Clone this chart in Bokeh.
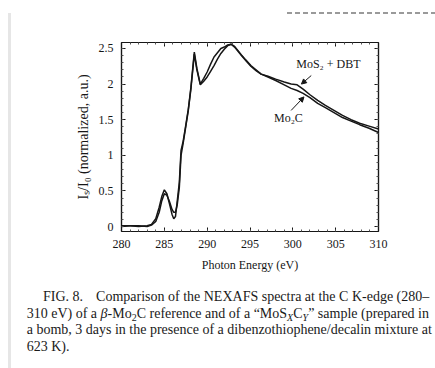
from bokeh.plotting import figure
from bokeh.models import FixedTicker, LinearAxis, Label, Arrow, NormalHead, Range1d, Div
from bokeh.layouts import column
from bokeh.embed import file_html
from bokeh.resources import INLINE

# ---- data ----
energy = [280, 281, 282, 283, 283.5, 284, 284.4, 284.7, 285, 285.3,
          285.6, 285.9, 286.1, 286.3, 286.5, 286.75, 286.95, 287.2, 287.5, 287.8,
          288.1, 288.5, 288.8, 289.2, 289.6, 290.0, 290.4, 290.8, 291.2, 291.6,
          292.0, 292.4, 292.8, 293.2, 293.6, 294.0, 294.5, 295.1, 295.7, 296.3,
          297.1, 298.0, 299.0, 299.8, 300.5, 301.2, 302.0, 302.9, 303.8, 304.8,
          305.8, 306.8, 307.8, 308.9, 310]
mos2_dbt = [0.01, 0.01, 0.0, 0.01, 0.03, 0.11, 0.27, 0.42, 0.515, 0.46,
            0.32, 0.17, 0.11, 0.14, 0.35, 0.62, 1.07, 1.2, 1.42, 1.65,
            1.95, 2.45, 2.22, 2.0, 2.08, 2.17, 2.28, 2.38, 2.44, 2.5,
            2.52, 2.55, 2.56, 2.52, 2.46, 2.40, 2.33, 2.25, 2.19, 2.14,
            2.11, 2.07, 2.03, 2.0, 1.99, 1.93, 1.85, 1.77, 1.70, 1.63,
            1.56, 1.50, 1.45, 1.41, 1.37]
mo2c = [0.0, 0.01, 0.01, 0.0, 0.02, 0.07, 0.2, 0.36, 0.46, 0.44,
        0.35, 0.24, 0.2, 0.2, 0.3, 0.55, 1.0, 1.17, 1.4, 1.63,
        1.93, 2.42, 2.2, 1.99, 2.04, 2.1, 2.18, 2.26, 2.35, 2.43,
        2.49, 2.54, 2.56, 2.53, 2.47, 2.41, 2.34, 2.26, 2.2, 2.14,
        2.1, 2.05, 1.99, 1.94, 1.91, 1.87, 1.81, 1.73, 1.67, 1.6,
        1.53, 1.48, 1.43, 1.38, 1.32]
x_ticks = [280, 285, 290, 295, 300, 305, 310]
y_ticks = [0, 0.5, 1, 1.5, 2, 2.5]
y_tick_labels = ["0", "0.5", "1", "1.5", "2", "2.5"]

SERIF = "Liberation Serif"
INK = "#161616"

p = figure(frame_width=257, frame_height=189,
           min_border_left=121, min_border_right=57,
           min_border_top=42, min_border_bottom=54,
           x_range=Range1d(280, 310), y_range=Range1d(-0.07, 2.584),
           output_backend="svg", toolbar_location=None,
           background_fill_color="white", border_fill_color=None)
p.grid.visible = False
p.outline_line_color = INK
p.outline_line_width = 1.2

xt = FixedTicker(ticks=x_ticks, minor_ticks=list(range(280, 311)))
yt = FixedTicker(ticks=y_ticks, minor_ticks=[i / 10 for i in range(0, 26)])


def style(ax, labels=True):
    ax.axis_line_color = INK
    ax.axis_line_width = 1.2
    ax.major_tick_in = 4
    ax.major_tick_out = 0
    ax.minor_tick_in = 2
    ax.minor_tick_out = 0
    ax.major_tick_line_color = INK
    ax.minor_tick_line_color = "#555555"
    ax.major_label_text_font = SERIF
    ax.major_label_text_font_size = "12px"
    ax.major_label_text_color = INK if labels else None
    ax.axis_label_text_font = SERIF
    ax.axis_label_text_font_style = "normal"
    ax.axis_label_text_color = INK


p.xaxis.ticker = xt
p.yaxis.ticker = yt
p.yaxis.major_label_overrides = {t: s for t, s in zip(y_ticks, y_tick_labels)}
for ax in p.xaxis:
    style(ax)
    ax.major_label_standoff = 8
    ax.axis_label = "Photon Energy (eV)"
    ax.axis_label_text_font_size = "12px"
    ax.axis_label_standoff = 7
for ax in p.yaxis:
    style(ax)
    ax.major_label_standoff = 8
    ax.axis_label = "Iₛ/I₀ (normalized, a.u.)"
    ax.axis_label_text_font_size = "14px"
    ax.axis_label_standoff = 5

top = LinearAxis(ticker=xt)
style(top, labels=False)
top.major_label_text_font_size = "0px"
p.add_layout(top, "above")
right = LinearAxis(ticker=yt)
style(right, labels=False)
right.major_label_text_font_size = "0px"
p.add_layout(right, "right")

p.line(energy, mo2c, line_color=INK, line_width=1.5)
p.line(energy, mos2_dbt, line_color=INK, line_width=1.5)

# inline labels + arrows
p.add_layout(Label(x=300.4, y=2.28, text="MoS₂ + DBT", text_font=SERIF,
                   text_font_size="12px", text_baseline="middle", text_color=INK))
p.add_layout(Label(x=297.8, y=1.52, text="Mo₂C", text_font=SERIF,
                   text_font_size="12px", text_baseline="middle", text_color=INK))
p.add_layout(Arrow(x_start=302.15, y_start=2.12, x_end=301.0, y_end=2.0,
                   line_color=INK, line_width=1,
                   end=NormalHead(size=5, fill_color=INK, line_color=INK)))
p.add_layout(Arrow(x_start=299.8, y_start=1.63, x_end=301.3, y_end=1.82,
                   line_color=INK, line_width=1,
                   end=NormalHead(size=5, fill_color=INK, line_color=INK)))

# ---- caption ----
def sub(t, italic=True):
    inner = "<i>%s</i>" % t if italic else t
    return ('<span style="font-size:10px;position:relative;top:3px;'
            'line-height:0">%s</span>' % inner)

caption_lines = [
    '<div style="padding-left:16.3px">FIG. 8.<span style="display:inline-block;'
    'width:13px"></span>Comparison of the NEXAFS spectra at the C K-edge (280–</div>',
    '<div>310 eV) of a <i>β</i>-Mo' + sub('2', False)
    + 'C reference and of a “MoS' + sub('X') + 'C' + sub('Y')
    + '” sample (prepared in</div>',
    '<div>a bomb, 3 days in the presence of a dibenzothiophene/decalin mixture at</div>',
    '<div>623 K).</div>',
]
cap_html = ('<div style="box-sizing:border-box;font-family:\'Liberation Serif\',serif;'
            'font-size:14px;line-height:16.5px;white-space:nowrap;color:#1a1a1a;'
            'padding:4px 0 0 26.7px;width:435px;overflow:hidden">'
            + ''.join(caption_lines) + '</div>')
cap = Div(text=cap_html, width=435, height=83, margin=0,
          styles={"overflow": "hidden"})

page_bg = ("linear-gradient(#e6e6e6,#e6e6e6) no-repeat 8px 13px / 3px 355px, "
           "repeating-linear-gradient(90deg,#9a9a9a 0 5px,transparent 5px 8px) "
           "no-repeat 287px 12px / 148px 2px, white")
layout = column(p, cap, spacing=0, styles={"background": page_bg})

open("out.html", "w").write(file_html(layout, INLINE))
